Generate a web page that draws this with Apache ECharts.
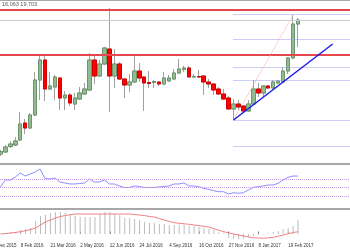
<!DOCTYPE html>
<html><head><meta charset="utf-8">
<script src="https://cdn.jsdelivr.net/npm/echarts@6/dist/echarts.min.js"></script>
<style>html,body{margin:0;padding:0;background:#fff;overflow:hidden}#wrap{position:relative;width:350px;height:250px;overflow:hidden}#c{position:absolute;left:-12px;top:0;width:367px;height:250px}</style>
</head><body><div id="wrap"><div id="c"></div></div>
<script>
// ---- data (weekly bars) ----
const headerText = '16,063 19,703';
const tickLabels = ['27 Dec 2015','8 Feb 2016','21 Mar 2016','2 May 2016','12 Jun 2016','24 Jul 2016','4 Sep 2016','16 Oct 2016','27 Nov 2016','8 Jan 2017','19 Feb 2017'];
const tickEvery = 6;
const firstBar = 2;      // category index of first visible bar
const nCats = 74;
const open  = [10,12,17.5,19,24,41,36,49,84,104,75,77,86,66,69,60,65,70,74,104,88,100,115,88,100,85,79,82,93,87,81.5,81.5,82,80,83,85,91,94.5,96,87,87.5,88,82,80,75,70,66,55,60,58,53,60,75,71,78,76,81,82,93,106,140];
const close = [12.5,17,20,23,40,36,49,84,104,75,78,87,66,69,61,66,71,75,104,88,100,116,88,100,85,79,82,93,86,81,80.5,82.5,80,86,86,91,95,96,87,87.5,87,82,80,74,70,65,55,60,57,53,60,75,71,78,76,82,83,93,106,140,144];
const low   = [8,11,16,18,23,30,35,48,64,63,74,64,54,54,58,54,64,69,73,80,87,99,52,76,84,66,72,81,82,53,76,76,78,79,82,84,90,92,87,86,86,69,76,69,69,64,55,44,54,52,52,59,67,67,75,75,80,82,90,105,117];
const high  = [14,19,23,27,52,45,51,92,110,110,92,89,87,73,71,71,77,81,111,108,104,117,156,115,102,86,90,108,101,88,93,84,83,92,89,95,105,98,98,90,94,89,85,81,77,75,68,65,64,59,64,84,81,79,79,84,84,97,107,149,146];
const rsi   = [51.6,68.3,68.3,75.5,85.1,77.9,82.7,87.5,94.7,71.9,70.7,73.1,63.5,61.2,58.8,58.8,60,61.2,70.7,63.5,63.5,68.3,58.8,58.8,54,50.4,50.4,54,52.8,50.4,50.4,50.4,51.6,52.8,54,58.8,58.8,61.2,54,54,52.3,48.4,46,42.7,40.3,40.3,34.8,37.9,36.5,37.9,44.4,50.8,52.3,54,56.4,56.4,60.4,68.3,74.8,77.9,77.9];
const macd  = [1,1,2,2,4,5,6,13,18,19,21,22,22,21,20,18,17,17,17,17,20,22,22,21,19,16,16,15,14,12,11,11,10,10,9,9,9.5,9,8,8,7,6,5,4,2,1,-4,-5,-5,-4.5,-3,-2,-1,-0.5,1,2,3,5,6,8,14];
const signal= [0,0.5,1,1.7,2.3,3.3,4.5,6,9,12,14,16,17.5,18.5,19.3,20,20,20,20,20,20,20,20,20,20,20,20,19.5,19,18.5,17.5,17,15.5,14,12.5,11.3,10.7,10.2,9.7,9,8.3,7.7,6.8,5.3,3.8,2.3,1.2,0,-1,-2,-3,-3.7,-4,-4.3,-3.8,-3.3,-2.2,-1,0.3,1.5,2.3];
const resistanceLevels = [154.5, 109];
const greyLevel = 144;
const fibLevels = [149.5, 124.5, 109, 97, 84, 44, 18];
const fibStart = 49, fibEnd = 73;
const trendFrom = [49, 44], trendTo = [69, 120];
const swingFrom = [49, 44], swingTo = [61, 149];
const rsiLevels = [70, 50, 30];

// ---- build ----
const cats = [];
for (let i = 0; i < nCats; i++) cats.push('w' + i);
const pad = n => Array(n).fill('-');
const full = open.map((o, i) => [o, close[i], low[i], high[i]]);
const bodies = open.map((o, i) => [o, close[i], Math.min(o, close[i]), Math.max(o, close[i])]);
const candleFull = pad(firstBar).map(() => ['-','-','-','-']).concat(full);
const candleBody = pad(firstBar).map(() => ['-','-','-','-']).concat(bodies);
const rsiData = pad(firstBar).concat(rsi);
const macdData = pad(firstBar).concat(macd);
const sigData = pad(firstBar).concat(signal);

const shift = 12; // the chart canvas starts 12px left of the visible window
const isTick = i => i % tickEvery === 0 && i / tickEvery < tickLabels.length;

const fibLines = fibLevels.map(v => [{coord: [cats[fibStart], v], lineStyle: {color: '#9a9af0', width: 1, type: 'dotted'}}, {coord: [cats[fibEnd], v]}]);

const chart = echarts.init(document.getElementById('c'), null, {renderer: 'canvas'});
chart.setOption({
  animation: false,
  backgroundColor: '#fff',
  title: {text: headerText, left: 2 + shift, top: 1.5, padding: 0, textStyle: {fontSize: 5.5, fontWeight: 'normal', color: '#555', fontFamily: 'Liberation Sans'}},
  graphic: [{type: 'line', shape: {x1: 0, y1: 0.5, x2: 367, y2: 0.5}, style: {stroke: '#a8a8a8', lineWidth: 1.2}, silent: true}],
  grid: [
    {left: 0, right: 0, top: 0, height: 164},
    {left: 0, right: 0, top: 166.8, height: 41.7},
    {left: 0, right: 0, top: 209.5, height: 30.5}
  ],
  xAxis: [
    {type: 'category', data: cats, gridIndex: 0, axisLabel: {show: false}, axisTick: {show: false}, axisLine: {show: true, lineStyle: {color: '#a8a8a8', width: 2}}},
    {type: 'category', data: cats, gridIndex: 1, axisLabel: {show: false}, axisTick: {show: false}, axisLine: {show: true, lineStyle: {color: '#a8a8a8', width: 2}}},
    {type: 'category', data: cats, gridIndex: 2, axisLine: {show: false},
      axisTick: {show: true, inside: true, length: 2.5, alignWithLabel: true, interval: isTick, lineStyle: {color: '#888'}},
      axisLabel: {show: true, interval: isTick, align: 'left', margin: 3, fontSize: 4.5, color: '#333', fontFamily: 'Liberation Sans',
        formatter: (v, i) => isTick(i) ? tickLabels[i / tickEvery] : ''}}
  ],
  yAxis: [
    {type: 'value', gridIndex: 0, min: 0, max: 164, show: false},
    {type: 'value', gridIndex: 1, min: 0, max: 100, show: false},
    {type: 'value', gridIndex: 2, min: -6, max: 24.5, show: false}
  ],
  series: [
    {type: 'candlestick', xAxisIndex: 0, yAxisIndex: 0, data: candleFull, barWidth: 4, z: 2,
      itemStyle: {color: '#90bc90', color0: '#ff0000', borderColor: '#a0a0a0', borderColor0: '#a0a0a0', borderWidth: 1},
      markLine: {silent: true, symbol: 'none', label: {show: false},
        data: [{yAxis: greyLevel, lineStyle: {color: '#c8ccd4', width: 1, type: 'solid'}}]}
    },
    {type: 'candlestick', xAxisIndex: 0, yAxisIndex: 0, data: candleBody, barWidth: 4, z: 3,
      itemStyle: {color: '#90bc90', color0: '#ff0000', borderColor: '#6e946e', borderColor0: '#d40000', borderWidth: 1},
      markLine: {silent: true, symbol: 'none', label: {show: false}, data: fibLines}
    },
    {type: 'line', xAxisIndex: 0, yAxisIndex: 0, data: [], z: 5,
      markLine: {silent: true, symbol: 'none', label: {show: false},
        data: [
          ...resistanceLevels.map(v => ({yAxis: v, lineStyle: {color: '#e4484c', width: 2, type: 'solid'}})),
          [{coord: [cats[swingFrom[0]], swingFrom[1]], lineStyle: {color: '#f4a8a8', width: 1, type: 'dotted'}}, {coord: [cats[swingTo[0]], swingTo[1]]}],
          [{coord: [cats[trendFrom[0]], trendFrom[1]], lineStyle: {color: '#1c1ce6', width: 1.5, type: 'solid'}}, {coord: [cats[trendTo[0]], trendTo[1]]}]
        ]}
    },
    {type: 'line', xAxisIndex: 1, yAxisIndex: 1, data: rsiData, symbol: 'none', lineStyle: {color: '#8c8cff', width: 1},
      markLine: {silent: true, symbol: 'none', label: {show: false},
        data: rsiLevels.map(v => ({yAxis: v, lineStyle: {color: '#c89ae8', width: 1, type: 'dotted'}}))}
    },
    {type: 'bar', xAxisIndex: 2, yAxisIndex: 2, data: macdData, barWidth: 1, itemStyle: {color: '#bcbcbc'}},
    {type: 'line', xAxisIndex: 2, yAxisIndex: 2, data: sigData, symbol: 'none', lineStyle: {color: '#f08080', width: 1}}
  ]
});
</script></body></html>
